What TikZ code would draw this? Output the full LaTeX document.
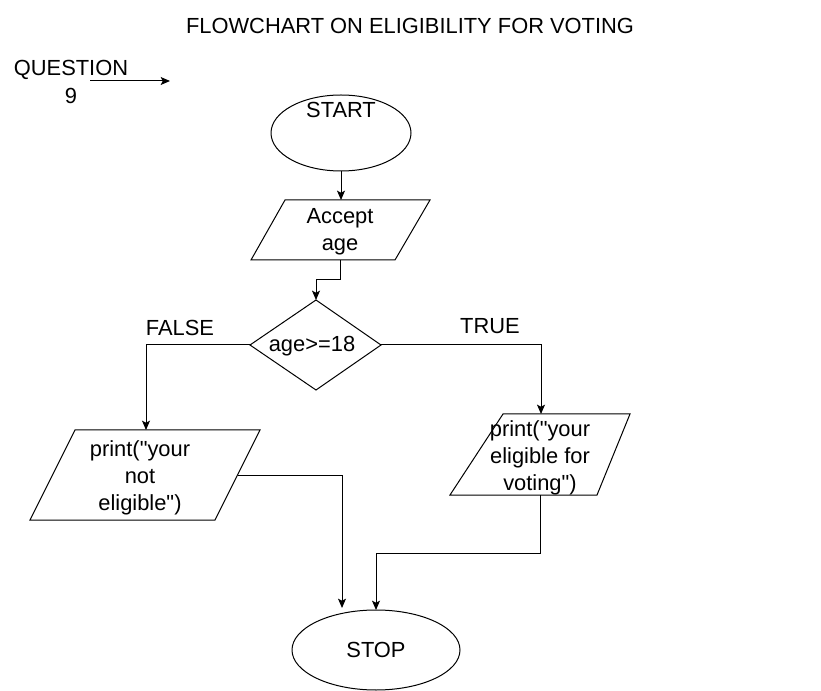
\documentclass[tikz,border=0pt]{standalone}
\usepackage{fontspec}
\setmainfont{Liberation Sans}[Ligatures=TeXOff]
\usetikzlibrary{arrows.meta,shapes.geometric}
\begin{document}
\begin{tikzpicture}[x=0.75pt,y=-0.75pt,
  every node/.style={font=\fontsize{16.4}{20.4}\selectfont, inner sep=0pt, align=center},
  shapeline/.style={draw=black, line width=0.75pt},
  conn/.style={draw=black, line width=0.75pt, -{Stealth[length=7pt,width=6pt,inset=1.5pt]}}]
\useasboundingbox (0,0) rectangle (821,691);

% title and question
\node (title) at (410,26) {FLOWCHART ON ELIGIBILITY FOR VOTING};
\node (q) at (71,82) {QUESTION\\9};
\coordinate (qa) at (90,81);
\coordinate (qb) at (170,81);
\draw[conn] (qa) -- (qb);

% start
\node[ellipse, shapeline, minimum width=105pt, minimum height=57pt] (start) at (341,133) {};
\node (starttxt) at (341,110) {START};

% accept age
\draw[shapeline] (285,200) -- (430,200) -- (395,260) -- (251,260) -- cycle;
\node (acc) at (340,232) {Accept\\age};
\coordinate (acctop) at (341,200);
\coordinate (accbot) at (340,260);
\draw[conn] (start.south) -- (acctop);

% decision
\draw[shapeline] (316,300) -- (381,345) -- (316,390) -- (250,345) -- cycle;
\coordinate (dtop) at (316,300);
\coordinate (dleft) at (250,345);
\coordinate (dright) at (381,345);
\node (dec) at (312,346) {age>=18};
\draw[conn] (accbot) -- ++(0,20) -| (dtop);

% labels
\node (false) at (180,328) {FALSE};
\node (true) at (490,326) {TRUE};

% left parallelogram
\draw[shapeline] (75,430) -- (260,430) -- (215,520) -- (30,520) -- cycle;
\node (notel) at (140,478) {print("your\\not\\eligible")};
\coordinate (ltop) at (146,430);
\coordinate (lright) at (238,475);

% right parallelogram
\draw[shapeline] (503,414) -- (630,414) -- (597,495) -- (450,495) -- cycle;
\node (el) at (540,458) {print("your\\eligible for\\voting")};
\coordinate (rtop) at (541,414);
\coordinate (rbot) at (540,495);

\draw[conn] (dleft) -| (ltop);
\draw[conn] (dright) -| (rtop);

% stop
\node[ellipse, shapeline, minimum width=126pt, minimum height=60pt] (stop) at (376,650) {STOP};
\coordinate (stopa) at (342,608);
\coordinate (stopb) at (376,610);
\draw[conn] (lright) -| (stopa);
\draw[conn] (rbot) -- ++(0,58) -| (stopb);
\end{tikzpicture}
\end{document}
